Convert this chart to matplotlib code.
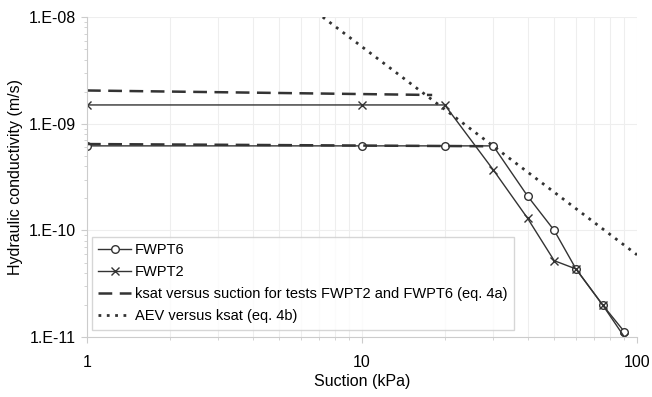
import numpy as np
import matplotlib.pyplot as plt
from matplotlib.ticker import FuncFormatter, LogLocator, NullFormatter

plt.rcParams['font.family'] = ['Liberation Sans', 'DejaVu Sans']

# measured data
suction_t6 = [1, 10, 20, 30, 40, 50, 60, 75, 90]
k_t6 = [6.2e-10, 6.2e-10, 6.2e-10, 6.2e-10, 2.1e-10, 1.0e-10, 4.35e-11, 2.0e-11, 1.12e-11]

suction_t2 = [1, 10, 20, 30, 40, 50, 60, 75, 90]
k_t2 = [1.5e-9, 1.5e-9, 1.5e-9, 3.7e-10, 1.3e-10, 5.2e-11, 4.35e-11, 2.0e-11, 1.0e-11]

# eq. 4a (ksat vs suction), two branches
eq4a_upper_s = [1, 18]
eq4a_upper_k = [2.05e-9, 1.86e-9]
eq4a_lower_s = [1, 29]
eq4a_lower_k = [6.45e-10, 6.15e-10]

# eq. 4b (AEV vs ksat)
eq4b_s = [7.2, 100]
eq4b_k = [1.0e-8, 5.9e-11]

xticks = [1, 10, 100]
yticks = [1e-11, 1e-10, 1e-9, 1e-8]

col = '#333333'
fig = plt.figure(figsize=(6.52, 3.97), dpi=100)
ax = fig.add_axes([0.1334, 0.151, 0.977 - 0.1334, 0.957 - 0.151])

ax.plot(suction_t6, k_t6, color=col, lw=1.0, marker='o', ms=5.5,
        mfc='white', mec=col, mew=1.0, label='FWPT6')
ax.plot(suction_t2, k_t2, color=col, lw=1.0, marker='x', ms=5.5,
        mec=col, mew=1.0, label='FWPT2')
ax.plot(eq4a_upper_s, eq4a_upper_k, color=col, lw=1.8, ls=(0, (5.5, 3)),
        label='ksat versus suction for tests FWPT2 and FWPT6 (eq. 4a)')
ax.plot(eq4a_lower_s, eq4a_lower_k, color=col, lw=1.8, ls=(0, (5.5, 3)))
ax.plot(eq4b_s, eq4b_k, color=col, lw=2.0, ls=(0, (1, 2)),
        label='AEV versus ksat (eq. 4b)')

ax.set_xscale('log')
ax.set_yscale('log')
ax.set_xlim(1, 100)
ax.set_ylim(1e-11, 1e-8)
ax.set_xticks(xticks)
ax.set_yticks(yticks)

ax.yaxis.set_major_formatter(FuncFormatter(
    lambda v, p: '1.E-%02d' % round(-np.log10(v))))
ax.xaxis.set_major_formatter(FuncFormatter(lambda v, p: '%g' % v))
ax.xaxis.set_minor_locator(LogLocator(base=10, subs=np.arange(2, 10)))
ax.yaxis.set_minor_locator(LogLocator(base=10, subs=np.arange(2, 10)))
ax.xaxis.set_minor_formatter(NullFormatter())
ax.yaxis.set_minor_formatter(NullFormatter())

ax.grid(True, which='both', axis='x', color='#eeeeee', lw=0.8)
ax.grid(True, which='major', axis='y', color='#eeeeee', lw=0.8)
ax.set_axisbelow(True)

for s in ['top', 'right']:
    ax.spines[s].set_visible(False)
for s in ['left', 'bottom']:
    ax.spines[s].set_color('#cccccc')
ax.tick_params(which='major', length=4, color='#cccccc', labelsize=11.5, pad=4)
ax.tick_params(which='minor', length=2, color='#cccccc')
ax.tick_params(axis='x', pad=9)

ax.set_xlabel('Suction (kPa)', fontsize=11.5, labelpad=3)
ax.set_ylabel('Hydraulic conductivity (m/s)', fontsize=11.5, labelpad=4)

leg = ax.legend(loc='lower left', bbox_to_anchor=(0.009, 0.022), fontsize=10.5,
                frameon=True, fancybox=False, edgecolor='#cccccc',
                handlelength=2.2, handletextpad=0.3, borderpad=0.45,
                labelspacing=0.55, borderaxespad=0)
leg.get_frame().set_linewidth(1.0)

fig.savefig('out.png', dpi=100)
